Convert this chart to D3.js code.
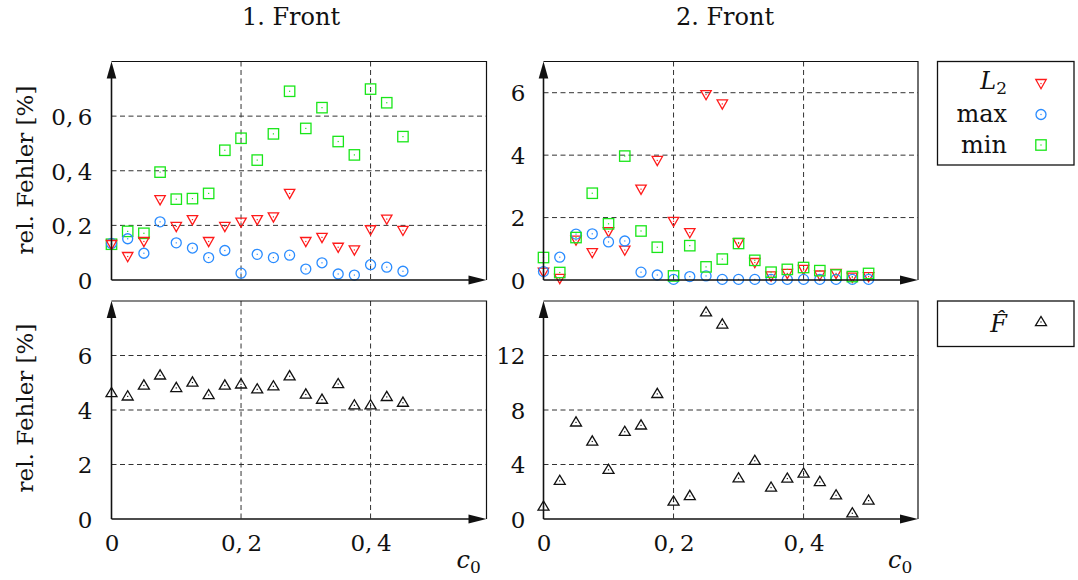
<!DOCTYPE html>
<html>
<head>
<meta charset="utf-8">
<script src="https://cdn.jsdelivr.net/npm/d3@7"></script>
<style>
  html, body { margin: 0; padding: 0; background: #fff; }
  svg { display: block; }
  svg text { font-family: "DejaVu Serif", "Liberation Serif", serif; fill: #111; }
</style>
</head>
<body>
<svg id="chart" width="1078" height="580"></svg>
<script>
// ---------------- data ----------------
const c0Front1 = [0, 0.025, 0.05, 0.075, 0.1, 0.125, 0.15, 0.175, 0.2, 0.225, 0.25, 0.275, 0.3, 0.325, 0.35, 0.375, 0.4, 0.425, 0.45];
const c0Front2 = [0, 0.025, 0.05, 0.075, 0.1, 0.125, 0.15, 0.175, 0.2, 0.225, 0.25, 0.275, 0.3, 0.325, 0.35, 0.375, 0.4, 0.425, 0.45, 0.475, 0.5];

const front1L2  = [0.13, 0.086, 0.141, 0.294, 0.196, 0.221, 0.141, 0.196, 0.212, 0.221, 0.231, 0.317, 0.141, 0.156, 0.120, 0.110, 0.184, 0.223, 0.182];
const front1Max = [0.134, 0.151, 0.098, 0.213, 0.136, 0.117, 0.082, 0.108, 0.025, 0.094, 0.082, 0.091, 0.040, 0.063, 0.022, 0.018, 0.056, 0.047, 0.032];
const front1Min = [0.131, 0.178, 0.171, 0.395, 0.296, 0.298, 0.317, 0.475, 0.519, 0.439, 0.535, 0.691, 0.555, 0.631, 0.507, 0.458, 0.699, 0.649, 0.525];
const front1F   = [4.62, 4.50, 4.90, 5.27, 4.81, 5.01, 4.55, 4.90, 4.94, 4.76, 4.87, 5.24, 4.57, 4.38, 4.95, 4.17, 4.17, 4.48, 4.27];

const front2L2  = [0.25, 0.05, 1.28, 0.88, 1.55, 0.96, 2.91, 3.83, 1.88, 1.52, 5.94, 5.64, 1.20, 0.56, 0.13, 0.21, 0.34, 0.16, 0.21, 0.09, 0.11];
const front2Max = [0.27, 0.73, 1.47, 1.48, 1.22, 1.25, 0.25, 0.16, 0.02, 0.11, 0.13, 0.02, 0.02, 0.02, 0.02, 0.02, 0.02, 0.02, 0.02, 0.02, 0.02];
const front2Min = [0.72, 0.24, 1.36, 2.78, 1.80, 3.97, 1.57, 1.05, 0.13, 1.10, 0.42, 0.67, 1.17, 0.63, 0.25, 0.34, 0.40, 0.30, 0.16, 0.11, 0.21];
const front2F   = [0.91, 2.80, 7.09, 5.69, 3.61, 6.40, 6.87, 9.18, 1.28, 1.69, 15.17, 14.28, 2.99, 4.27, 2.31, 2.97, 3.34, 2.72, 1.74, 0.42, 1.35];

const xTicks = [0, 0.2, 0.4];
const yTicksTopLeft = [0, 0.2, 0.4, 0.6];
const yTicksTopRight = [0, 2, 4, 6];
const yTicksBottomLeft = [0, 2, 4, 6];
const yTicksBottomRight = [0, 4, 8, 12];
const columnTitles = ["1. Front", "2. Front"];
const yAxisLabel = "rel. Fehler [%]";
const legendTop = ["max", "min"];

// ---------------- layout ----------------
const FONT = "DejaVu Serif";
const svg = d3.select("#chart");
const colX = [{x0: 111.5, x1: 486.5, xmax: 0.579}, {x0: 543.5, x1: 918, xmax: 0.576}];
const rowY = [{y0: 61.5, y1: 280}, {y0: 301, y1: 519}];

const COL = { red: "#ff1a1a", blue: "#2a8cff", green: "#19e619", black: "#111" };

function fmt(v) {
  return String(v).replace(".", ",\u2009");
}

function marker(g, type, x, y, color) {
  const s = g.append("g").attr("transform", `translate(${x},${y})`);
  const sw = 1.3;
  if (type === "tdown") {
    s.append("path").attr("d", "M-5.2,-4 L5.2,-4 L0,5.2 Z")
      .attr("fill", "none").attr("stroke", color).attr("stroke-width", sw);
  } else if (type === "tup") {
    s.append("path").attr("d", "M-5.5,3.6 L5.5,3.6 L0,-5.6 Z")
      .attr("fill", "none").attr("stroke", color).attr("stroke-width", sw);
  } else if (type === "circle") {
    s.append("circle").attr("r", 5).attr("fill", "none").attr("stroke", color).attr("stroke-width", sw);
  } else if (type === "square") {
    s.append("rect").attr("x", -5.2).attr("y", -5.2).attr("width", 10.4).attr("height", 10.4)
      .attr("fill", "none").attr("stroke", color).attr("stroke-width", sw);
  }
  s.append("rect").attr("x", -0.6).attr("y", -0.6).attr("width", 1.2).attr("height", 1.2).attr("fill", color);
}

function panel(col, row, ymax, yTicks, series, showX) {
  const cx = colX[col], ry = rowY[row];
  const x = d3.scaleLinear().domain([0, cx.xmax]).range([cx.x0, cx.x1]);
  const y = d3.scaleLinear().domain([0, ymax]).range([ry.y1, ry.y0]);
  const g = svg.append("g");

  // grid (dashed)
  const grid = g.append("g");
  grid.selectAll("line.gx").data(xTicks.filter(t => t > 0)).join("line")
    .attr("x1", d => x(d)).attr("x2", d => x(d)).attr("y1", ry.y0).attr("y2", ry.y1)
    .attr("stroke", "#333").attr("stroke-width", 1).attr("stroke-dasharray", "5,3.5");
  grid.selectAll("line.gy").data(yTicks.filter(t => t > 0)).join("line")
    .attr("x1", cx.x0).attr("x2", cx.x1).attr("y1", d => y(d)).attr("y2", d => y(d))
    .attr("stroke", "#333").attr("stroke-width", 1).attr("stroke-dasharray", "5,3.5");

  // frame (top and right)
  g.append("path")
    .attr("d", `M${cx.x0},${ry.y0} L${cx.x1},${ry.y0} L${cx.x1},${ry.y1}`)
    .attr("fill", "none").attr("stroke", "#111").attr("stroke-width", 1.2);

  // y axis labels
  const ya = g.append("g").attr("transform", `translate(${cx.x0},0)`)
    .call(d3.axisLeft(y).tickValues(yTicks).tickSize(0).tickPadding(col === 0 ? 19 : 18).tickFormat(fmt));
  ya.select(".domain").remove();
  ya.attr("font-family", FONT);
  ya.selectAll("text").attr("font-size", 23).attr("font-family", FONT).attr("fill", "#111").attr("dy", "0.36em");

  if (showX) {
    const xa = g.append("g").attr("transform", `translate(0,${ry.y1})`)
      .call(d3.axisBottom(x).tickValues(xTicks).tickSize(0).tickPadding(15).tickFormat(fmt));
    xa.select(".domain").remove();
    xa.attr("font-family", FONT);
    xa.selectAll("text").attr("font-size", 23).attr("font-family", FONT).attr("fill", "#111").attr("dy", "0.73em");
    const lab = g.append("text").attr("x", cx.x1 - 30).attr("y", 568).attr("font-size", 24);
    lab.append("tspan").attr("font-style", "italic").text("c");
    lab.append("tspan").attr("font-size", 17).attr("dy", 5).text("0");
  }

  // points
  const pts = g.append("g");
  series.forEach(s => {
    s.xs.forEach((cv, i) => marker(pts, s.type, x(cv), y(s.vals[i]), s.color));
  });

  // axes with arrows
  g.append("line").attr("x1", cx.x0).attr("x2", cx.x0).attr("y1", ry.y1).attr("y2", ry.y0 + 10)
    .attr("stroke", "#111").attr("stroke-width", 1.6);
  g.append("path").attr("d", `M${cx.x0},${ry.y0} L${cx.x0 - 4.8},${ry.y0 + 17} L${cx.x0 + 4.8},${ry.y0 + 17} Z`).attr("fill", "#111");
  g.append("line").attr("x1", cx.x0).attr("x2", cx.x1 - 10).attr("y1", ry.y1).attr("y2", ry.y1)
    .attr("stroke", "#111").attr("stroke-width", 1.6);
  g.append("path").attr("d", `M${cx.x1},${ry.y1} L${cx.x1 - 18},${ry.y1 - 4.6} L${cx.x1 - 18},${ry.y1 + 4.6} Z`).attr("fill", "#111");
}

panel(0, 0, 0.8, yTicksTopLeft, [
  {xs: c0Front1, vals: front1Min, type: "square", color: COL.green},
  {xs: c0Front1, vals: front1Max, type: "circle", color: COL.blue},
  {xs: c0Front1, vals: front1L2, type: "tdown", color: COL.red}
], false);
panel(1, 0, 7, yTicksTopRight, [
  {xs: c0Front2, vals: front2L2, type: "tdown", color: COL.red},
  {xs: c0Front2, vals: front2Max, type: "circle", color: COL.blue},
  {xs: c0Front2, vals: front2Min, type: "square", color: COL.green}
], false);
panel(0, 1, 8, yTicksBottomLeft, [
  {xs: c0Front1, vals: front1F, type: "tup", color: COL.black}
], true);
panel(1, 1, 16, yTicksBottomRight, [
  {xs: c0Front2, vals: front2F, type: "tup", color: COL.black}
], true);

// titles
svg.selectAll("text.title").data(columnTitles).join("text")
  .attr("class", "title")
  .attr("x", (d, i) => i === 0 ? 291 : 725).attr("y", 25)
  .attr("text-anchor", "middle").attr("font-size", 24).text(d => d);

// y labels
[170, 408].forEach(cy => {
  svg.append("text").attr("transform", `translate(27,${cy}) rotate(-90)`)
    .attr("text-anchor", "middle").attr("dominant-baseline", "middle")
    .attr("font-size", 23).text(yAxisLabel);
});

// legends
const lg = svg.append("g");
lg.append("rect").attr("x", 937.5).attr("y", 61.5).attr("width", 136.5).attr("height", 103.5)
  .attr("fill", "#fff").attr("stroke", "#111").attr("stroke-width", 1.3);
lg.append("rect").attr("x", 937.5).attr("y", 301).attr("width", 136.5).attr("height", 45.5)
  .attr("fill", "#fff").attr("stroke", "#111").attr("stroke-width", 1.3);

const l2 = lg.append("text").attr("x", 1007).attr("y", 89).attr("text-anchor", "end").attr("font-size", 24);
l2.append("tspan").attr("font-style", "italic").text("L");
l2.append("tspan").attr("font-size", 17).attr("dy", 5).text("2");
lg.append("text").attr("x", 1007).attr("y", 121.5).attr("text-anchor", "end").attr("font-size", 24).text(legendTop[0]);
lg.append("text").attr("x", 1007).attr("y", 152.5).attr("text-anchor", "end").attr("font-size", 24).text(legendTop[1]);
marker(lg, "tdown", 1041, 83.5, COL.red);
marker(lg, "circle", 1041, 114.5, COL.blue);
marker(lg, "square", 1041, 145, COL.green);

lg.append("text").attr("x", 1007).attr("y", 332).attr("text-anchor", "end").attr("font-size", 24)
  .attr("font-style", "italic").text("F\u0302");
marker(lg, "tup", 1041, 322, COL.black);

// make sure every label uses the serif family
svg.selectAll("text").attr("font-family", FONT);
</script>
</body>
</html>
